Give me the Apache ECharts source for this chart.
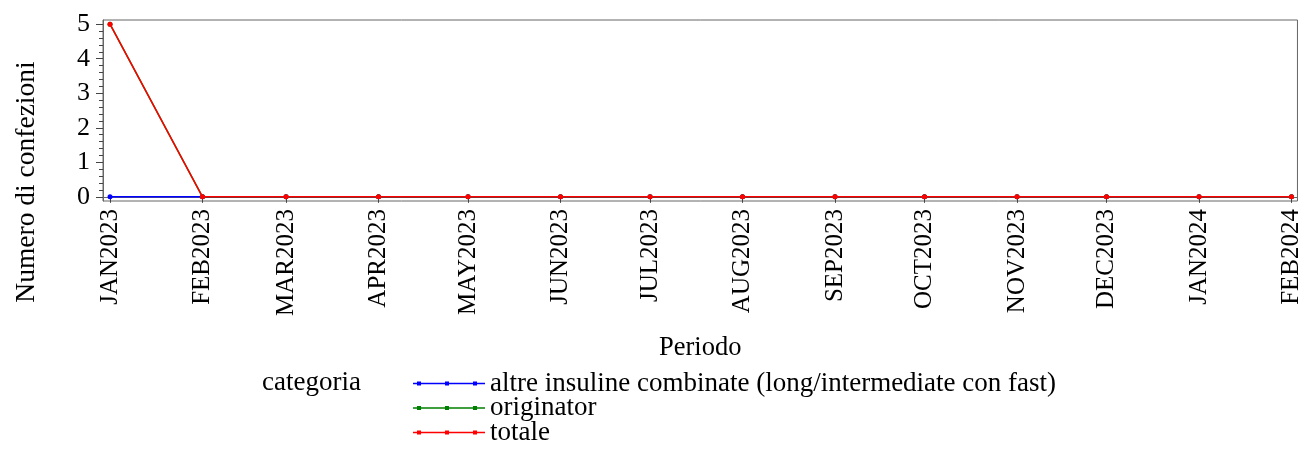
<!DOCTYPE html>
<html>
<head>
<meta charset="utf-8">
<script src="https://cdn.jsdelivr.net/npm/echarts@6/dist/echarts.min.js"></script>
<style>
html,body{margin:0;padding:0;background:#fff;}
#chart{width:1304px;height:459px;}
</style>
</head>
<body>
<div id="chart"></div>
<script>
// ---- data ----
var months = [[2023,1],[2023,2],[2023,3],[2023,4],[2023,5],[2023,6],[2023,7],[2023,8],[2023,9],[2023,10],[2023,11],[2023,12],[2024,1],[2024,2]];
var xLabels = ['JAN2023','FEB2023','MAR2023','APR2023','MAY2023','JUN2023','JUL2023','AUG2023','SEP2023','OCT2023','NOV2023','DEC2023','JAN2024','FEB2024'];
var seriesNames = ['altre insuline combinate (long/intermediate con fast)','originator','totale'];
var altreValues = [0,0,0,0,0,0,0,0,0,0,0,0,0,0];
var originatorValues = [5,0,0,0,0,0,0,0,0,0,0,0,0,0];
var totaleValues = [5,0,0,0,0,0,0,0,0,0,0,0,0,0];
var yTicks = [0,1,2,3,4,5];
var yMinorTicks = [];
for (var k = 0; k <= 25; k++) yMinorTicks.push(Math.round(k*2)/10);

// ---- build ----
var DAY = 86400000;
var monthTimes = months.map(function(m){ return Date.UTC(m[0], m[1]-1, 1) / DAY; }); // day numbers
function pairs(vals){ return vals.map(function(v,i){ return [monthTimes[i], v]; }); }
var FONT = '"Liberation Serif", "Times New Roman", serif';
var colors = ['#0000ff','#008000','#ff0000'];
var legendIcon = 'path://M0,1.2 L72,1.2 L72,2.8 L0,2.8 Z M4,0 L8,0 L8,4 L4,4 Z M32,0 L36,0 L36,4 L32,4 Z M60,0 L64,0 L64,4 L60,4 Z';

var chart = echarts.init(document.getElementById('chart'), null, {renderer:'canvas'});
var option = {
  animation: false,
  backgroundColor: '#fff',
  textStyle: {fontFamily: FONT},
  grid: {left: 103, right: 4, top: 20, bottom: 258, show: true, borderColor: '#666', borderWidth: 1, backgroundColor: 'transparent'},
  xAxis: {
    type: 'value',
    min: monthTimes[0] - 2.35,
    max: monthTimes[monthTimes.length-1] + 2.0,
    name: 'Periodo',
    nameLocation: 'middle',
    nameGap: 134,
    nameTextStyle: {fontFamily: FONT, fontSize: 26.5, color: '#000'},
    axisLine: {show: true, lineStyle: {color: '#666', width: 1}},
    axisTick: {show: true, length: 6, lineStyle: {color: '#444'}, customValues: monthTimes},
    axisLabel: {
      show: true, rotate: 90, margin: 8, fontFamily: FONT, fontSize: 25, color: '#000',
      customValues: monthTimes,
      formatter: function(v){ var i = monthTimes.indexOf(v); return i >= 0 ? xLabels[i] : ''; }
    },
    splitLine: {show: false}
  },
  yAxis: [{
    type: 'value',
    min: -0.12, max: 5.12,
    axisLine: {show: true, lineStyle: {color: '#666'}},
    axisTick: {show: true, length: 7, lineStyle: {color: '#444'}, customValues: yTicks},
    axisLabel: {show: true, margin: 13, fontFamily: FONT, fontSize: 26, color: '#000', customValues: yTicks},
    splitLine: {show: false}
  },{
    type: 'value',
    position: 'left',
    min: -0.12, max: 5.12,
    axisLine: {show: false},
    axisTick: {show: true, length: 4, lineStyle: {color: '#444'}, customValues: yMinorTicks},
    axisLabel: {show: false},
    splitLine: {show: false}
  }],
  legend: {
    orient: 'vertical',
    left: 408, top: 365,
    itemWidth: 72, itemHeight: 4, itemGap: -2.5,
    icon: legendIcon,
    selectedMode: false,
    textStyle: {fontFamily: FONT, fontSize: 27, color: '#000', lineHeight: 24},
    data: seriesNames
  },
  graphic: [
    {type: 'text', x: 27, y: 182, rotation: Math.PI/2,
     style: {text: 'Numero di confezioni', fontFamily: FONT, fontSize: 27.5, fill: '#000', align: 'center', verticalAlign: 'middle'}},
    {type: 'text', x: 262, y: 383,
     style: {text: 'categoria', fontFamily: FONT, fontSize: 27, fill: '#000', align: 'left', verticalAlign: 'middle'}}
  ],
  series: [
    {name: seriesNames[0], type: 'line', data: pairs(altreValues), color: colors[0], symbol: 'circle', symbolSize: 5, lineStyle: {width: 1.5}, z: 2},
    {name: seriesNames[1], type: 'line', data: pairs(originatorValues), color: colors[1], symbol: 'circle', symbolSize: 5, lineStyle: {width: 1.5}, z: 3},
    {name: seriesNames[2], type: 'line', data: pairs(totaleValues), color: colors[2], symbol: 'circle', symbolSize: 5, lineStyle: {width: 1.5}, z: 4}
  ]
};
chart.setOption(option);
</script>
</body>
</html>
